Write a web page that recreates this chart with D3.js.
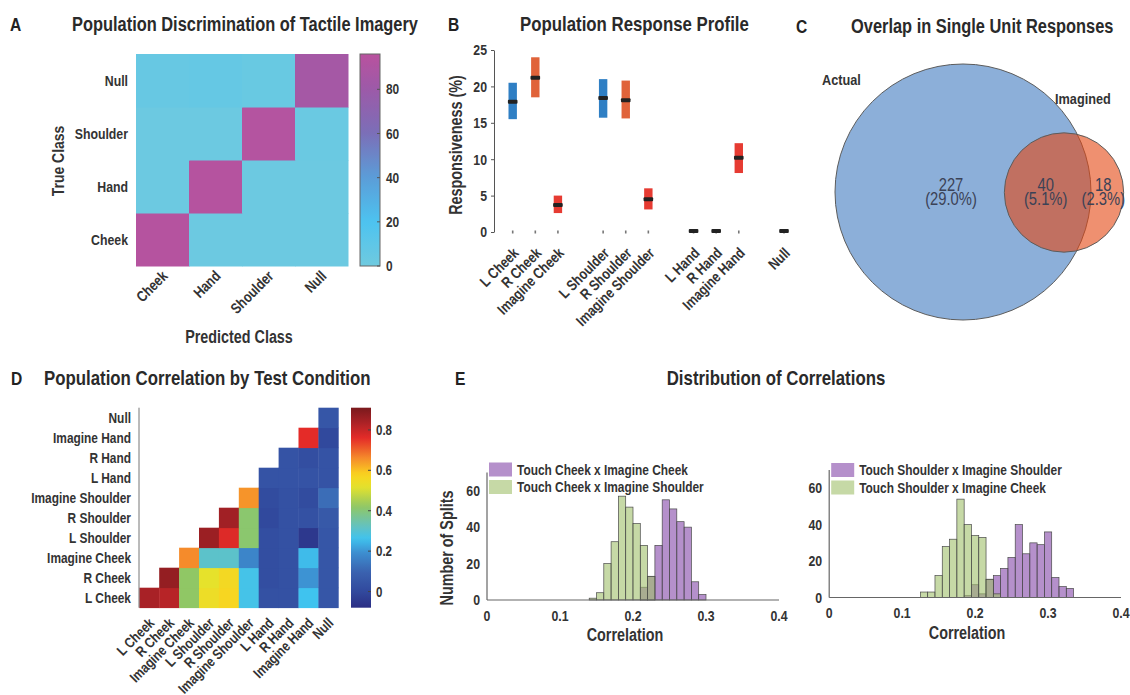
<!DOCTYPE html>
<html>
<head>
<meta charset="utf-8">
<script src="https://cdn.jsdelivr.net/npm/d3@7"></script>
<style>
  html, body { margin: 0; padding: 0; background: #fff; }
  svg { display: block; }
</style>
</head>
<body>
<svg id="fig" width="1130" height="695"></svg>
<script>
// ---------------- data ----------------
// A: decoder confusion matrix (% of trials); rows = true class, columns = predicted class
const classesA = ["Cheek", "Hand", "Shoulder", "Null"];
const confusionA = [
  [94, 2, 2, 2],
  [2, 94, 2, 2],
  [2, 2, 93, 3],
  [5, 6, 4, 85]
];
const ticksA = [0, 20, 40, 60, 80];

// B: responsiveness per condition (interval low/high and median, %)
const condB  = ["L Cheek", "R Cheek", "Imagine Cheek", "L Shoulder", "R Shoulder", "Imagine Shoulder", "L Hand", "R Hand", "Imagine Hand", "Null"];
const groupB = ["Cheek", "Cheek", "Cheek", "Shoulder", "Shoulder", "Shoulder", "Hand", "Hand", "Hand", "Null"];
const kindB  = ["left", "right", "imagined", "left", "right", "imagined", "left", "right", "imagined", "null"];
const lowB   = [15.5, 18.5, 2.6, 15.7, 15.6, 3.1, 0, 0, 8.1, 0];
const highB  = [20.5, 24.0, 5.0, 21.0, 20.8, 6.0, 0.3, 0.3, 12.2, 0.3];
const medB   = [17.9, 21.2, 3.7, 18.4, 18.1, 4.5, 0.15, 0.15, 10.2, 0.15];
const ticksB = [0, 5, 10, 15, 20, 25];

// C: single units responsive to actual touch, imagined touch, or both
const vennSets    = ["Actual", "Imagined"];
const vennCounts  = [227, 40, 18];          // actual only, both, imagined only
const vennPercent = [29.0, 5.1, 2.3];

// D: population correlation between conditions (row i, columns i..end)
const condD = condB;
const corrD = [
  [0.84, 0.82, 0.42, 0.54, 0.57, 0.27, 0.03, 0.03, 0.26, 0.05],
  [0.87, 0.42, 0.52, 0.56, 0.27, 0.02, 0.03, 0.20, 0.05],
  [0.66, 0.31, 0.31, 0.17, 0.02, 0.03, 0.25, 0.05],
  [0.86, 0.77, 0.41, 0.02, 0.03, -0.05, 0.05],
  [0.85, 0.41, 0.00, 0.03, 0.03, 0.06],
  [0.65, 0.01, 0.03, 0.01, 0.12],
  [0.04, 0.04, 0.04, 0.04],
  [0.04, 0.02, 0.04],
  [0.76, 0.00],
  [0.05]
];
const ticksD = [0, 0.2, 0.4, 0.6, 0.8];

// E: split-half correlation histograms (bin width 0.01)
const binWidthE = 0.01;
const legendLeftE  = ["Touch Cheek x Imagine Cheek", "Touch Cheek x Imagine Shoulder"];
const purpleStartLeft = 0.21;
const purpleLeft = [7, 13, 30, 55, 50, 43, 40, 10, 3];
const greenStartLeft = 0.14;
const greenLeft = [1, 4, 20, 32, 57, 51, 42, 30, 13];
const legendRightE = ["Touch Shoulder x Imagine Shoulder", "Touch Shoulder x Imagine Cheek"];
const purpleStartRight = 0.185;
const purpleRight = [1, 7, 2, 10, 12, 16, 22, 40, 24, 30, 29, 36, 11, 6, 5];
const greenStartRight = 0.125;
const greenRight = [3, 3, 12, 28, 32, 54, 40, 34, 33, 10, 2];
const ticksEx = [0, 0.1, 0.2, 0.3, 0.4];
const ticksEy = [0, 20, 40, 60];

// ---------------- fonts ----------------
function fontAvailable(name) {
  const ctx = document.createElement("canvas").getContext("2d");
  const s = "Population Discrimination 0123456789";
  ctx.font = "40px monospace";
  const w0 = ctx.measureText(s).width;
  ctx.font = `40px "${name}", monospace`;
  return ctx.measureText(s).width !== w0;
}
const hasNarrow = fontAvailable("Liberation Sans Narrow");
const FONT = hasNarrow ? '"Liberation Sans Narrow", "Liberation Sans", sans-serif' : '"Liberation Sans", Arial, sans-serif';
const INK = "#333";

const svg = d3.select("#fig").style("font-family", FONT);
const defs = svg.append("defs");

function txt(g, x, y, s, size, opts = {}) {
  return g.append("text").attr("x", x).attr("y", y).text(s)
    .attr("font-size", size)
    .attr("font-weight", opts.weight || "bold")
    .attr("text-anchor", opts.anchor || "start")
    .attr("fill", opts.fill || INK);
}
function rotLabel(g, x, y, s, size, angle) {
  return g.append("text").attr("transform", `translate(${x},${y}) rotate(${angle})`)
    .attr("text-anchor", "end").attr("font-size", size).attr("font-weight", "bold")
    .attr("fill", INK).text(s);
}
function addGradient(id, color, domain) {
  const grad = defs.append("linearGradient").attr("id", id)
    .attr("x1", 0).attr("y1", 1).attr("x2", 0).attr("y2", 0);
  d3.range(0, 1.0001, 0.025).forEach(t =>
    grad.append("stop").attr("offset", t).attr("stop-color", color(domain[0] + t * (domain[1] - domain[0]))));
}

// ---------------- panel titles ----------------
const titles = [
  ["A", 10, 30.5, "Population Discrimination of Tactile Imagery", 72, "start", 20],
  ["B", 448, 30.5, "Population Response Profile", 520, "start", 20.5],
  ["C", 796, 32.5, "Overlap in Single Unit Responses", 851, "start", 20],
  ["D", 11, 384.5, "Population Correlation by Test Condition", 44, "start", 20.5],
  ["E", 455, 384.5, "Distribution of Correlations", 776, "middle", 20.5]
];
titles.forEach(([l, lx, y, t, tx, anc, fs]) => {
  txt(svg, lx, y, l, 19, { fill: "#222" });
  txt(svg, tx, y, t, fs, { fill: "#2a2a2a", anchor: anc });
});

// ---------------- A: confusion matrix ----------------
{
  const g = svg.append("g");
  const x = d3.scaleBand().domain(classesA).range([136, 348]);
  const y = d3.scaleBand().domain(classesA.slice().reverse()).range([54, 266]);
  const cDomain = [0, 96];
  const color = d3.scaleLinear()
    .domain([0, 20, 40, 60, 80, 96])
    .range(["#6fcadf", "#4dc3f0", "#5b9dd8", "#7b6fb8", "#9c5aa8", "#b9529e"])
    .clamp(true);
  confusionA.forEach((row, i) => row.forEach((v, j) => {
    g.append("rect")
      .attr("x", x(classesA[j])).attr("y", y(classesA[i]))
      .attr("width", x.bandwidth() + 0.5).attr("height", y.bandwidth() + 0.5)
      .attr("fill", color(v));
  }));
  classesA.forEach(c => {
    txt(g, 128, y(c) + y.bandwidth() / 2 + 5, c, 15, { anchor: "end" });
    rotLabel(g, x(c) + x.bandwidth() / 2 + 6, 277, c, 15, -45);
  });
  txt(g, 0, 0, "True Class", 17, { anchor: "middle" }).attr("x", null).attr("y", null)
    .attr("transform", "translate(64,161) rotate(-90)");
  txt(g, 239, 343, "Predicted Class", 17.5, { anchor: "middle" });

  // colour bar
  addGradient("gradA", color, cDomain);
  const cb = d3.scaleLinear().domain(cDomain).range([266, 54]);
  g.append("rect").attr("x", 360).attr("y", 54).attr("width", 20).attr("height", 212)
    .attr("fill", "url(#gradA)").attr("stroke", "#666").attr("stroke-width", 1);
  ticksA.forEach(t => {
    g.append("line").attr("x1", 377).attr("x2", 380).attr("y1", cb(t)).attr("y2", cb(t))
      .attr("stroke", "#555");
    txt(g, 386, cb(t) + 5, t, 14.5);
  });
}

// ---------------- B: response profile ----------------
{
  const g = svg.append("g");
  // slot positions: one empty slot between body-part groups
  const slots = [];
  condB.forEach((c, i) => {
    if (i === 0) slots.push(1);
    else slots.push(slots[i - 1] + (groupB[i] !== groupB[i - 1] ? 2 : 1));
  });
  const x = d3.scaleLinear().domain([1, 13]).range([512.7, 784]);
  const y = d3.scaleLinear().domain([0, 25]).range([232, 50]);
  const fillFor = { left: "#2f7fc4", right: "#e0633a", imagined: "#e63b32", null: "#222" };

  const ax = g.append("g").attr("transform", "translate(494,0)")
    .call(d3.axisLeft(y).tickValues(ticksB).tickSizeInner(3).tickSizeOuter(0).tickPadding(4));
  ax.select(".domain").attr("stroke", "#555");
  ax.selectAll(".tick line").attr("stroke", "#555");
  ax.selectAll(".tick text").attr("font-size", 15).attr("font-weight", "bold")
    .attr("fill", INK).attr("font-family", FONT);

  condB.forEach((c, i) => {
    const cx = x(slots[i]);
    // small tick at zero
    g.append("rect").attr("x", cx - 0.8).attr("y", y(0) - 1.5).attr("width", 1.6).attr("height", 3)
      .attr("fill", "#777");
    if (highB[i] - lowB[i] > 0.5) {
      g.append("rect").attr("x", cx - 4.2).attr("y", y(highB[i]))
        .attr("width", 8.4).attr("height", y(lowB[i]) - y(highB[i]))
        .attr("fill", fillFor[kindB[i]]);
    }
    g.append("rect").attr("x", cx - 4.8).attr("y", y(medB[i]) - 2)
      .attr("width", 9.6).attr("height", 4).attr("rx", 1)
      .attr("fill", "#222");
    rotLabel(g, cx + 7, 254, c, 15, -45);
  });
  txt(g, 0, 0, "Responsiveness (%)", 17.5, { anchor: "middle" }).attr("x", null).attr("y", null)
    .attr("transform", "translate(462,145) rotate(-90)");
}

// ---------------- C: Venn diagram ----------------
{
  const g = svg.append("g");
  const nActual = vennCounts[0] + vennCounts[1];
  const nImag = vennCounts[1] + vennCounts[2];
  const r1 = 128;
  const r2 = r1 * Math.sqrt(nImag / nActual);
  const dist = 101;
  const c1 = [963, 192], c2 = [963 + dist, 192.5];

  g.append("circle").attr("cx", c1[0]).attr("cy", c1[1]).attr("r", r1)
    .attr("fill", "#8cafd9").attr("stroke", "#5c5c5c").attr("stroke-width", 1);
  g.append("circle").attr("cx", c2[0]).attr("cy", c2[1]).attr("r", r2)
    .attr("fill", "#e44611").attr("fill-opacity", 0.6)
    .attr("stroke", "#5c5c5c").attr("stroke-width", 1);

  const labelX = [c1[0] - 12, ((c2[0] - r2) + (c1[0] + r1)) / 2 - 2, ((c1[0] + r1) + (c2[0] + r2)) / 2 - 4];
  vennCounts.forEach((n, i) => {
    txt(g, labelX[i], 190.5, n, 18, { anchor: "middle", weight: "normal", fill: "#3b4256" });
    txt(g, labelX[i], 205, `(${vennPercent[i].toFixed(1)}%)`, 18, { anchor: "middle", weight: "normal", fill: "#3b4256" });
  });
  txt(g, 822, 85, vennSets[0], 15.5);
  txt(g, 1055, 104, vennSets[1], 15.5);
}

// ---------------- D: correlation matrix ----------------
{
  const g = svg.append("g");
  const x = d3.scaleBand().domain(condD).range([139.3, 338.3]);
  const y = d3.scaleBand().domain(condD.slice().reverse()).range([407.7, 607.7]);
  const cDomain = [-0.08, 0.91];
  const color = d3.scaleLinear()
    .domain([-0.08, 0.0, 0.1, 0.2, 0.26, 0.32, 0.42, 0.52, 0.58, 0.66, 0.76, 0.84, 0.91])
    .range(["#2b2e84", "#31499d", "#3b63b0", "#3d93d3", "#3fc3ef", "#62c2c2", "#90c765",
            "#e6e22b", "#fad31f", "#f58b2b", "#e42b28", "#a82126", "#7a1a1d"])
    .clamp(true);
  corrD.forEach((row, i) => row.forEach((v, k) => {
    const j = i + k;
    g.append("rect")
      .attr("x", x(condD[j])).attr("y", y(condD[i]))
      .attr("width", x.bandwidth() + 0.4).attr("height", y.bandwidth() + 0.4)
      .attr("fill", color(v));
  }));
  g.append("line").attr("x1", 139).attr("x2", 139).attr("y1", 407.7).attr("y2", 607.7)
    .attr("stroke", "#777").attr("stroke-width", 1);
  condD.forEach(c => {
    txt(g, 131, y(c) + y.bandwidth() / 2 + 5, c, 14.5, { anchor: "end" });
    rotLabel(g, x(c) + x.bandwidth() / 2 + 6, 624, c, 14.5, -45);
  });
  addGradient("gradD", color, cDomain);
  const cb = d3.scaleLinear().domain(cDomain).range([607.7, 407.7]);
  g.append("rect").attr("x", 351).attr("y", 407.7).attr("width", 20).attr("height", 200)
    .attr("fill", "url(#gradD)");
  ticksD.forEach(t => {
    g.append("line").attr("x1", 368).attr("x2", 371).attr("y1", cb(t)).attr("y2", cb(t))
      .attr("stroke", "#444");
    txt(g, 376, cb(t) + 5, t === 0 ? "0" : t.toFixed(1), 14);
  });
}

// ---------------- E: correlation histograms ----------------
function histPanel(opt) {
  const g = svg.append("g");
  const x = d3.scaleLinear().domain([0, 0.4]).range([opt.x0, opt.x1]);
  const y = d3.scaleLinear().domain([0, 70]).range([opt.y0, opt.y0 - 127.5]);
  const purple = "#8446a8", green = "#a0c06b";
  function bars(start, counts, fill) {
    counts.forEach((c, i) => {
      if (c <= 0) return;
      const a = start + i * binWidthE, b = a + binWidthE;
      g.append("rect").attr("x", x(a)).attr("y", y(c))
        .attr("width", x(b) - x(a)).attr("height", y(0) - y(c))
        .attr("fill", fill).attr("fill-opacity", 0.6)
        .attr("stroke", "#4a4a4a").attr("stroke-width", 0.7);
    });
  }
  bars(opt.pStart, opt.purple, purple);
  bars(opt.gStart, opt.green, green);

  // axes
  g.append("line").attr("x1", x(0)).attr("x2", x(0.4)).attr("y1", y(0)).attr("y2", y(0))
    .attr("stroke", "#666").attr("stroke-width", 1.2);
  g.append("line").attr("x1", x(0)).attr("x2", x(0)).attr("y1", y(0)).attr("y2", y(70))
    .attr("stroke", "#666").attr("stroke-width", 1.2);
  ticksEx.forEach(t => txt(g, x(t), opt.y0 + 20.5, t === 0 ? "0" : t.toFixed(1), 15, { anchor: "middle" }));
  ticksEy.forEach(t => txt(g, x(0) - 7, y(t) + 5, t, 15, { anchor: "end" }));
  txt(g, (x(0) + x(0.4)) / 2 - 8, opt.y0 + 41, "Correlation", 17.5, { anchor: "middle" });

  // legend
  opt.legend.forEach((s, i) => {
    const ly = opt.ly + i * 17.5;
    g.append("rect").attr("x", x(0) + 2).attr("y", ly).attr("width", 23).attr("height", 14)
      .attr("fill", i === 0 ? purple : green).attr("fill-opacity", 0.6);
    txt(g, x(0) + 30, ly + 12, s, 14.5);
  });
  return g;
}
const gL = histPanel({ x0: 487, x1: 779, y0: 600, pStart: purpleStartLeft, purple: purpleLeft,
  gStart: greenStartLeft, green: greenLeft, legend: legendLeftE, ly: 462.5 });
txt(gL, 0, 0, "Number of Splits", 17.5, { anchor: "middle" }).attr("x", null).attr("y", null)
  .attr("transform", "translate(453,548) rotate(-90)");
histPanel({ x0: 829.2, x1: 1121, y0: 597.5, pStart: purpleStartRight, purple: purpleRight,
  gStart: greenStartRight, green: greenRight, legend: legendRightE, ly: 463 });

// condense text if no narrow face is installed
if (!hasNarrow) {
  svg.selectAll("text").each(function () {
    const L = this.getComputedTextLength();
    this.setAttribute("textLength", L * 0.82);
    this.setAttribute("lengthAdjust", "spacingAndGlyphs");
  });
}
</script>
</body>
</html>
